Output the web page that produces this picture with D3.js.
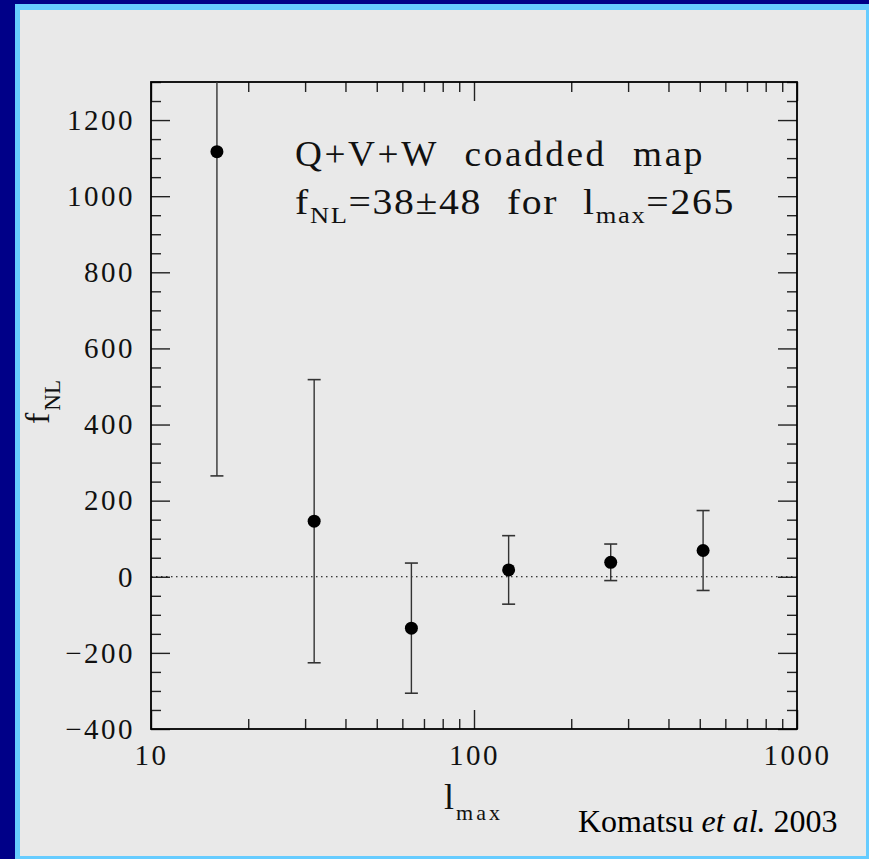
<!DOCTYPE html>
<html>
<head>
<meta charset="utf-8">
<script src="https://cdn.jsdelivr.net/npm/d3@7"></script>
<style>
  html, body { margin: 0; padding: 0; background: #000088; }
  svg { display: block; }
</style>
</head>
<body>
<svg id="chart" width="869" height="859"></svg>
<script>
// ---- data ----
const lmax   = [16, 32, 64, 128, 265, 512];
const fNL    = [1117, 146, -135, 18, 38, 69];
const errLo  = [265, -226, -306, -72, -10, -36];
const errHi  = [1969, 518, 36, 108, 86, 174];
const yMajorTicks = [-400, -200, 0, 200, 400, 600, 800, 1000, 1200];
const xMajorTicks = [10, 100, 1000];
const title1 = "Q+V+W coadded map";
const credit = "Komatsu";

// ---- layout ----
const svg = d3.select("#chart");
const W = 869, H = 859;
const m = {left: 151, right: 797, top: 82, bottom: 729};

svg.append("rect").attr("x", 0).attr("y", 0).attr("width", W).attr("height", H).attr("fill", "#000088");
svg.append("rect").attr("x", 15).attr("y", 4).attr("width", W - 15).attr("height", H - 4).attr("fill", "#66ccff");
svg.append("rect").attr("x", 20).attr("y", 10).attr("width", 846).attr("height", 846).attr("fill", "#e9e9e9");

const x = d3.scaleLog().domain([10, 1000]).range([m.left, m.right]);
const y = d3.scaleLinear().domain([-400, 1300]).range([m.bottom, m.top]);

const xMinor = [];
for (let d = 10; d < 1000; d *= 10) for (let k = 2; k <= 9; k++) xMinor.push(d * k);
const yMinor = d3.range(-400, 1301, 50).filter(v => v % 200 !== 0);

const serif = "'Liberation Serif', 'Times New Roman', serif";
const tickColor = "#222";

function styleAxis(g) {
  g.select(".domain").remove();
  g.selectAll(".tick line").attr("stroke", tickColor).attr("stroke-width", 1.4);
}

// minor ticks (all four sides)
svg.append("g").attr("transform", `translate(0,${m.bottom})`)
  .call(d3.axisBottom(x).tickValues(xMinor).tickSize(-10).tickFormat("")).call(styleAxis);
svg.append("g").attr("transform", `translate(0,${m.top})`)
  .call(d3.axisTop(x).tickValues(xMinor).tickSize(-10).tickFormat("")).call(styleAxis);
svg.append("g").attr("transform", `translate(${m.left},0)`)
  .call(d3.axisLeft(y).tickValues(yMinor).tickSize(-10).tickFormat("")).call(styleAxis);
svg.append("g").attr("transform", `translate(${m.right},0)`)
  .call(d3.axisRight(y).tickValues(yMinor).tickSize(-10).tickFormat("")).call(styleAxis);

// major ticks
const xAxisB = svg.append("g").attr("transform", `translate(0,${m.bottom})`)
  .call(d3.axisBottom(x).tickValues(xMajorTicks).tickSize(-19).tickPadding(15).tickFormat(d3.format("d")))
  .call(styleAxis);
svg.append("g").attr("transform", `translate(0,${m.top})`)
  .call(d3.axisTop(x).tickValues(xMajorTicks).tickSize(-19).tickFormat("")).call(styleAxis);
const yAxisL = svg.append("g").attr("transform", `translate(${m.left},0)`)
  .call(d3.axisLeft(y).tickValues(yMajorTicks).tickSize(-19).tickPadding(16)
    .tickFormat(d => d < 0 ? "\u2212" + Math.abs(d) : String(d)))
  .call(styleAxis);
svg.append("g").attr("transform", `translate(${m.right},0)`)
  .call(d3.axisRight(y).tickValues(yMajorTicks).tickSize(-19).tickFormat("")).call(styleAxis);

[xAxisB, yAxisL].forEach(g => g.selectAll(".tick text")
  .attr("font-family", serif).attr("font-size", 29).attr("fill", "#111")
  .attr("letter-spacing", 2.5));

// frame
svg.append("rect").attr("x", m.left).attr("y", m.top)
  .attr("width", m.right - m.left).attr("height", m.bottom - m.top)
  .attr("fill", "none").attr("stroke", "#000").attr("stroke-width", 1.8);

// zero line
svg.append("line").attr("x1", m.left).attr("x2", m.right)
  .attr("y1", y(0)).attr("y2", y(0))
  .attr("stroke", "#000").attr("stroke-width", 1.2).attr("stroke-dasharray", "1.5,3.5");

// error bars & points
const plot = svg.append("g");
svg.append("clipPath").attr("id", "clipPlot").append("rect")
  .attr("x", m.left).attr("y", m.top).attr("width", m.right - m.left).attr("height", m.bottom - m.top);
plot.attr("clip-path", "url(#clipPlot)");

const pts = lmax.map((l, i) => ({l, v: fNL[i], lo: errLo[i], hi: errHi[i]}));
const capW = 6.5;
const eg = plot.selectAll("g.eb").data(pts).join("g").attr("class", "eb");
eg.append("line").attr("x1", d => x(d.l)).attr("x2", d => x(d.l))
  .attr("y1", d => y(d.lo)).attr("y2", d => y(d.hi))
  .attr("stroke", "#333").attr("stroke-width", 1.4);
eg.append("line").attr("x1", d => x(d.l) - capW).attr("x2", d => x(d.l) + capW)
  .attr("y1", d => y(d.lo)).attr("y2", d => y(d.lo))
  .attr("stroke", "#333").attr("stroke-width", 1.6);
eg.append("line").attr("x1", d => x(d.l) - capW).attr("x2", d => x(d.l) + capW)
  .attr("y1", d => y(d.hi)).attr("y2", d => y(d.hi))
  .attr("stroke", "#333").attr("stroke-width", 1.6);
eg.append("circle").attr("cx", d => x(d.l)).attr("cy", d => y(d.v)).attr("r", 6.5).attr("fill", "#000");

// annotations
svg.append("text").attr("x", 295).attr("y", 166)
  .attr("font-family", serif).attr("font-size", 36).attr("fill", "#111")
  .attr("letter-spacing", 2.5).attr("word-spacing", 14)
  .attr("textLength", 410).attr("lengthAdjust", "spacingAndGlyphs")
  .text(title1);

const t2 = svg.append("text").attr("x", 295).attr("y", 214)
  .attr("font-family", serif).attr("font-size", 36).attr("fill", "#111")
  .attr("letter-spacing", 1.5).attr("word-spacing", 12);
t2.append("tspan").text("f");
t2.append("tspan").attr("font-size", 24).attr("dy", 9).text("NL");
t2.append("tspan").attr("dy", -9).text("=38\u00b148 for l");
t2.append("tspan").attr("font-size", 24).attr("dy", 9).text("max");
t2.append("tspan").attr("dy", -9).text("=265");
t2.attr("textLength", 440).attr("lengthAdjust", "spacingAndGlyphs");

// x axis label
const xl = svg.append("text").attr("x", 444).attr("y", 809)
  .attr("font-family", serif).attr("font-size", 36).attr("fill", "#111");
xl.append("tspan").text("l");
xl.append("tspan").attr("font-size", 22).attr("dy", 11).attr("dx", 2).attr("letter-spacing", 3).text("max");

// y axis label
const yl = svg.append("text").attr("transform", "translate(49,424) rotate(-90)")
  .attr("font-family", serif).attr("font-size", 34).attr("fill", "#111");
yl.append("tspan").text("f");
yl.append("tspan").attr("font-size", 23).attr("dy", 11).attr("dx", 2).text("NL");

// credit
const cr = svg.append("text").attr("x", 578).attr("y", 832)
  .attr("font-family", serif).attr("font-size", 32).attr("fill", "#000");
cr.append("tspan").text(credit + " ");
cr.append("tspan").attr("font-style", "italic").text("et al.");
cr.append("tspan").text(" 2003");
</script>
</body>
</html>
